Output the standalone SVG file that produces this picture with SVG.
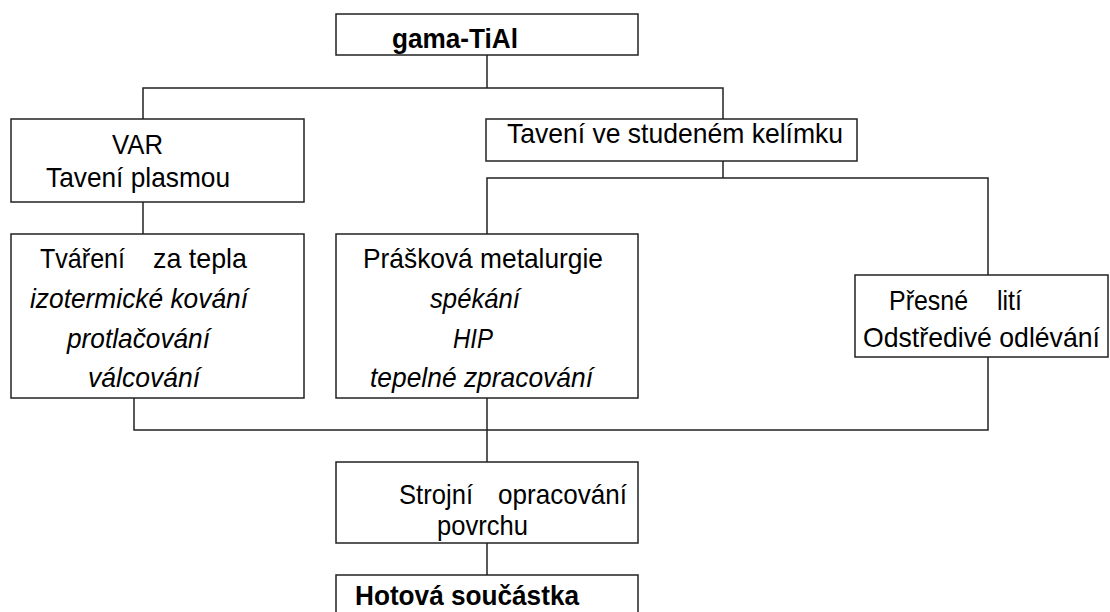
<svg xmlns="http://www.w3.org/2000/svg" width="1110" height="612" viewBox="0 0 1110 612">
<style>
.box{fill:#fff;stroke:#222;stroke-width:1.5}
.ln{fill:none;stroke:#222;stroke-width:1.5}
text{font-family:"Liberation Sans",Arial,sans-serif;font-size:28px;fill:#000}
.b{font-weight:bold}
.i{font-style:italic}
</style>
<rect width="1110" height="612" fill="#fff"/>
<g id="connectors">
<polyline class="ln" points="487,55 487,88"/>
<polyline class="ln" points="143,119 143,88 723,88 723,119"/>
<polyline class="ln" points="143,202 143,234"/>
<polyline class="ln" points="723,161 723,178"/>
<polyline class="ln" points="487,234 487,178 988,178 988,275"/>
<polyline class="ln" points="134,398 134,430 988,430 988,357"/>
<polyline class="ln" points="487,398 487,462"/>
<polyline class="ln" points="487,543 487,575"/>
</g>
<g id="n-gama">
<rect class="box" x="336" y="14" width="302" height="41"/>
<text class="b" x="392" y="48" textLength="126" lengthAdjust="spacingAndGlyphs">gama-TiAl</text>
</g>
<g id="n-var">
<rect class="box" x="11" y="119" width="293" height="83"/>
<text x="112" y="154" textLength="51" lengthAdjust="spacingAndGlyphs">VAR</text>
<text x="46" y="187" textLength="184" lengthAdjust="spacingAndGlyphs">Tavení plasmou</text>
</g>
<g id="n-kelimek">
<rect class="box" x="486" y="119" width="371" height="42"/>
<text x="507" y="143" textLength="336" lengthAdjust="spacingAndGlyphs">Tavení ve studeném kelímku</text>
</g>
<g id="n-tvareni">
<rect class="box" x="11" y="234" width="293" height="164"/>
<text x="40" y="268" textLength="85" lengthAdjust="spacingAndGlyphs">Tváření</text>
<text x="153" y="268" textLength="94" lengthAdjust="spacingAndGlyphs">za tepla</text>
<text class="i" x="30" y="308" textLength="218" lengthAdjust="spacingAndGlyphs">izotermické kování</text>
<text class="i" x="67" y="348" textLength="143" lengthAdjust="spacingAndGlyphs">protlačování</text>
<text class="i" x="88" y="387" textLength="112" lengthAdjust="spacingAndGlyphs">válcování</text>
</g>
<g id="n-prasek">
<rect class="box" x="336" y="234" width="302" height="164"/>
<text x="363" y="268" textLength="240" lengthAdjust="spacingAndGlyphs">Prášková metalurgie</text>
<text class="i" x="430" y="308" textLength="90" lengthAdjust="spacingAndGlyphs">spékání</text>
<text class="i" x="453" y="348" textLength="40" lengthAdjust="spacingAndGlyphs">HIP</text>
<text class="i" x="370" y="387" textLength="223" lengthAdjust="spacingAndGlyphs">tepelné zpracování</text>
</g>
<g id="n-liti">
<rect class="box" x="855" y="275" width="253" height="82"/>
<text x="889" y="310" textLength="79" lengthAdjust="spacingAndGlyphs">Přesné</text>
<text x="997" y="310" textLength="25" lengthAdjust="spacingAndGlyphs">lití</text>
<text x="863" y="347" textLength="237" lengthAdjust="spacingAndGlyphs">Odstředivé odlévání</text>
</g>
<g id="n-strojni">
<rect class="box" x="336" y="462" width="302" height="81"/>
<text x="399" y="504" textLength="74" lengthAdjust="spacingAndGlyphs">Strojní</text>
<text x="498" y="504" textLength="129" lengthAdjust="spacingAndGlyphs">opracování</text>
<text x="437" y="535" textLength="91" lengthAdjust="spacingAndGlyphs">povrchu</text>
</g>
<g id="n-hotova">
<rect class="box" x="336" y="575" width="302" height="60"/>
<text class="b" x="355" y="605" textLength="224" lengthAdjust="spacingAndGlyphs">Hotová součástka</text>
</g>
</svg>
